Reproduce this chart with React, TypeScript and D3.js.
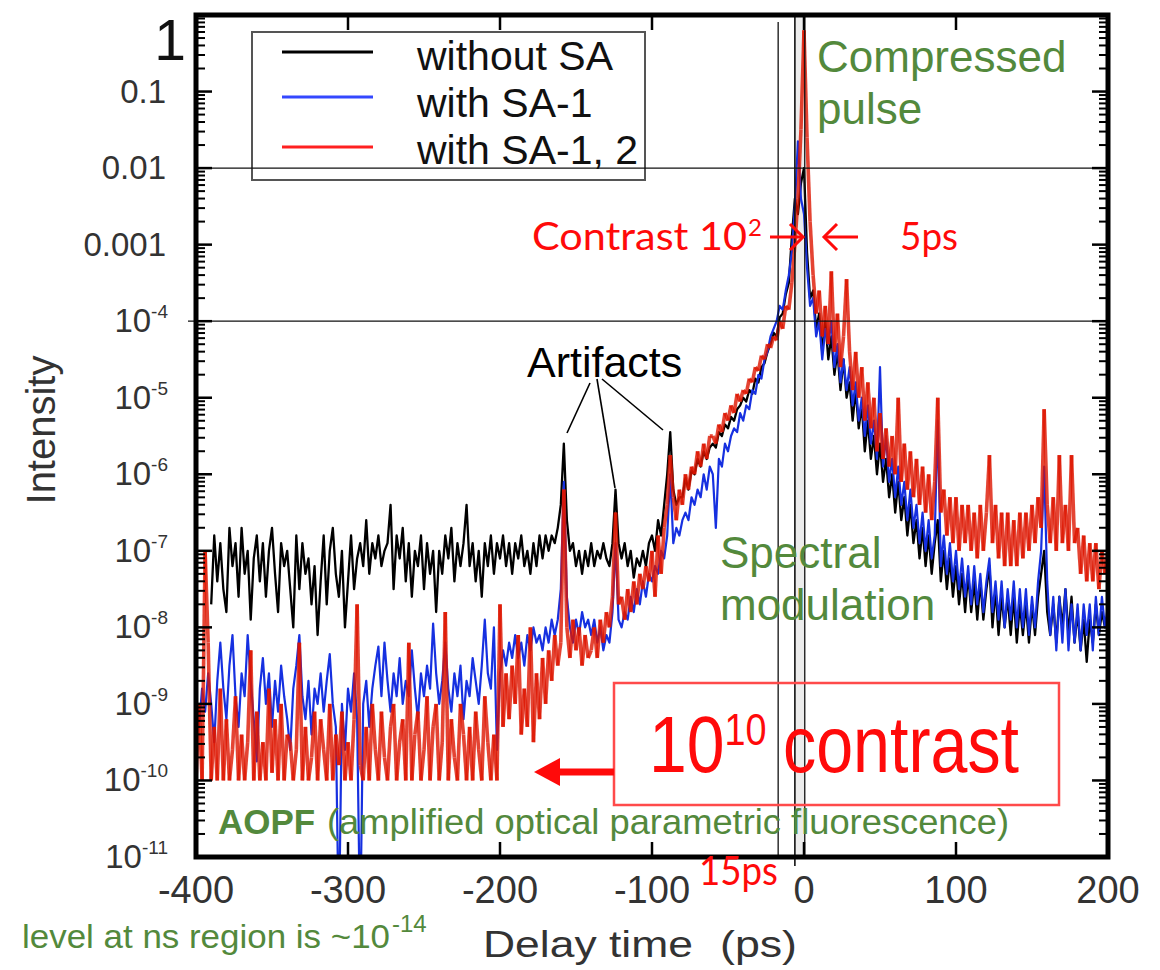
import React from "react";
import * as d3 from "d3";

// Delay-time grid: first sample and spacing (ps)
const TIME_START = -400;
const TIME_STEP = 2;

// log10(intensity), one value per 2 ps from -400 to +200 ps (null = no data)
const withoutSA: (number | null)[] = [
  null, null, null, null, null, -7.7, -6.8, -7.4, -6.9, -7.5,
  -7.8, -6.7, -7.2, -6.9, -7.6, -6.7, -7.3, -7.0, -7.9, -7.1,
  -6.8, -7.4, -6.9, -7.6, -7.0, -6.7, -7.3, -7.8, -6.9, -7.2,
  -7.0, -7.5, -8.0, -6.8, -7.5, -6.9, -7.3, -7.1, -7.7, -7.2,
  -8.1, -7.4, -6.8, -7.7, -7.0, -6.7, -7.3, -7.6, -7.0, -8.0,
  -7.4, -6.8, -7.5, -7.1, -6.9, -7.2, -6.6, -7.3, -6.9, -7.1,
  -6.8, -7.2, -7.0, -6.9, -6.4, -7.5, -6.8, -7.1, -6.7, -7.4,
  -6.9, -7.6, -7.0, -7.2, -6.8, -7.5, -6.9, -7.3, -7.0, -7.8,
  -7.0, -7.3, -6.8, -7.1, -6.7, -7.4, -6.9, -7.2, -6.9, -6.4,
  -7.2, -6.9, -7.4, -7.0, -7.6, -6.9, -7.2, -6.8, -7.3, -6.9,
  -7.1, -6.8, -7.2, -6.9, -7.3, -6.9, -7.1, -6.8, -7.2, -7.0,
  -7.3, -6.9, -7.2, -6.8, -7.1, -6.8, -7.0, -6.8, -6.9, -6.7,
  -6.4, -5.6, -6.6, -7.0, -6.9, -7.2, -7.0, -7.3, -7.0, -7.2,
  -6.9, -7.2, -7.0, -7.1, -6.9, -7.1, -7.2, -6.9, -6.2, -6.9,
  -7.1, -6.9, -7.2, -7.0, -7.35, -7.1, -7.2, -7.0, -7.2, -6.9,
  -6.8, -7.0, -6.6, -6.8, -6.4, -6.0, -5.45, -6.2, -6.4, -6.3,
  -6.3, -6.05, -6.2, -5.95, -6.0, -5.8, -5.9, -5.7, -5.8, -5.65,
  -5.6, -5.65, -5.45, -5.5, -5.35, -5.4, -5.25, -5.3, -5.15, -5.1,
  -5.0, -5.05, -4.9, -4.95, -4.75, -4.8, -4.6, -4.55, -4.4, -4.3,
  -4.15, -4.2, -3.95, -3.9, -3.65, -3.5, -2.9, -2.4, -2.6, -2.2,
  -2.0, -3.1, -3.7, -3.6, -4.1, -3.9, -4.4, -4.0, -4.5, -4.2,
  -4.7, -4.4, -4.9, -4.5, -5.0, -4.8, -5.3, -4.9, -5.4, -5.1,
  -5.7, -5.3, -5.8, -5.5, -6.0, -5.6, -6.1, -5.8, -6.3, -6.0,
  -6.5, -6.1, -6.6, -6.3, -6.8, -6.4, -6.9, -6.6, -7.1, -6.7,
  -7.2, -6.8, -7.3, -6.9, -6.6, -7.4, -7.0, -7.5, -7.1, -7.6,
  -7.2, -7.7, -7.3, -7.8, -7.3, -7.8, -7.4, -7.9, -7.4, -7.9,
  -7.5, -7.2, -8.0, -7.5, -8.1, -7.6, -8.0, -7.6, -8.1, -7.6,
  -8.2, -7.7, -8.1, -7.7, -8.2, -7.7, -8.1, -7.6, -7.3, -7.0,
  -7.8, -8.1, -7.7, -8.2, -7.6, -8.0, -7.5, -8.1, -7.6, -8.2,
  -7.8, -8.3, -7.9, -8.45, -7.9, -8.2, -7.7, -8.1, -7.8, -8.0,
  -7.8,
];

const withSA1: (number | null)[] = [
  -8.9, -9.3, -8.8, -9.1, -8.6, -9.0, -9.5, -8.7, -8.2, -8.8,
  -9.2, -8.5, -8.1, -8.9, -9.3, -8.6, -8.9, -8.1, -8.7, -9.2,
  -9.75, -8.8, -8.4, -9.0, -8.6, -9.3, -8.7, -9.1, -8.5, -8.9,
  -9.2, -9.6, -8.8, -8.5, -8.1, -8.9, -9.2, -8.7, -9.4, -8.8,
  -9.0, -8.6, -9.1, -8.7, -8.35, -9.0, -9.3, -12.0, -9.0, -9.6,
  -8.8, -9.1, -8.6, -9.2, -12.0, -9.0, -8.7, -9.3, -8.8, -8.5,
  -8.25, -8.9, -8.2, -8.7, -9.1, -8.6, -8.9, -8.4, -9.0, -8.7,
  -8.9, -8.3, -8.8, -9.2, -8.6, -8.9, -8.5, -8.8, -7.95, -8.6,
  -9.0, -8.7, -8.2, -8.8, -9.1, -8.6, -8.9, -8.5, -9.2, -8.7,
  -8.9, -8.4, -8.7, -9.0, -8.5, -7.9, -8.6, -8.8, -8.0, -9.6,
  -8.6, -8.3, -8.5, -8.2, -8.4, -8.1, -8.4, -8.2, -8.5, -8.1,
  -8.3, -8.0, -8.2, -8.1, -8.3, -8.0, -8.2, -7.9, -8.1, -7.9,
  -7.5, -6.1, -7.6, -8.0, -8.2, -7.9, -8.1, -7.8, -8.0, -7.9,
  -8.1, -7.9, -8.2, -8.0, -8.3, -8.1, -8.2, -7.8, -6.9, -7.9,
  -8.0, -7.8, -7.9, -7.6, -7.8, -7.5, -7.7, -7.4, -7.6, -7.3,
  -7.4, -7.2, -7.3, -7.0, -7.1, -6.8, -6.0, -6.9, -6.7, -6.8,
  -6.6, -6.5, -6.6, -6.3, -6.4, -6.2, -6.3, -6.0, -6.2, -5.9,
  -6.0, -6.7, -5.8, -5.9, -5.6, -5.7, -5.5, -5.4, -5.45, -5.2,
  -5.3, -5.1, -5.15, -4.9, -4.95, -4.7, -4.75, -4.5, -4.4, -4.2,
  -4.1, -4.0, -3.8, -3.85, -3.6, -3.4, -3.1, -2.5, -1.65, -2.4,
  -2.6, -3.3, -3.8, -3.7, -4.2, -4.0, -4.5, -4.1, -4.3, -4.0,
  -4.6, -4.3, -4.8, -4.5, -4.9, -4.6, -5.1, -4.8, -5.3, -5.0,
  -5.5, -5.1, -5.6, -5.3, -5.8, -4.6, -5.9, -5.5, -6.1, -5.8,
  -6.3, -5.9, -6.4, -6.1, -6.6, -6.2, -6.7, -6.4, -6.9, -6.5,
  -7.0, -6.6, -7.1, -6.8, -5.3, -7.2, -6.8, -7.3, -6.9, -7.4,
  -7.0, -7.5, -7.1, -7.6, -7.2, -7.7, -7.2, -7.7, -7.3, -7.8,
  -7.4, -7.1, -7.8, -7.4, -7.9, -7.4, -8.0, -7.5, -7.9, -7.4,
  -8.0, -7.5, -8.0, -7.5, -8.1, -7.6, -8.0, -7.4, -7.0, -5.9,
  -7.4, -8.1, -7.6, -8.3, -7.6, -8.2, -7.5, -8.3, -7.7, -8.2,
  -7.7, -8.3, -7.7, -8.1, -7.7, -8.3, -7.6, -8.1, -7.6, -8.0,
  -7.7,
];

const withSA12: (number | null)[] = [
  -10.0, -9.0, -10.0, -7.0, -8.2, -10.0, -9.3, -10.0, -8.8, -10.0,
  -9.2, -10.0, -9.6, -8.9, -10.0, -9.4, -10.0, -9.5, -8.3, -10.0,
  -9.1, -10.0, -9.5, -10.0, -8.8, -9.9, -9.2, -10.0, -9.0, -10.0,
  -9.4, -9.5, -10.0, -9.6, -8.2, -10.0, -9.3, -10.0, -9.7, -9.1,
  -10.0, -9.2, -9.6, -10.0, -9.0, -10.0, -9.4, -9.8, -9.1, -10.0,
  -9.5, -10.0, -9.2, -7.7, -9.8, -10.0, -9.3, -10.0, -9.0, -9.6,
  -10.0, -9.1, -9.7, -10.0, -9.3, -9.0, -10.0, -9.5, -9.2, -10.0,
  -8.2, -10.0, -9.4, -9.1, -10.0, -9.6, -8.9, -10.0, -9.3, -9.0,
  -10.0, -9.5, -7.8, -10.0, -9.2, -9.7, -10.0, -9.0, -9.4, -10.0,
  -9.3, -10.0, -9.1, -9.6, -10.0, -8.9, -9.5, -10.0, -9.4, -10.0,
  -7.7, -9.3, -8.6, -9.2, -8.5, -9.0, -8.1, -9.4, -8.8, -9.3,
  -8.0, -9.5, -8.6, -9.2, -8.4, -9.0, -8.3, -8.7, -8.1, -8.5,
  -8.2, -6.2, -8.0, -8.4, -7.9, -8.3, -8.0, -8.5, -8.1, -8.4,
  -8.3, -8.0, -8.4, -7.9, -8.2, -7.8, -8.0, -7.6, -6.5, -7.7,
  -7.6, -7.9, -7.5, -7.8, -7.4, -7.7, -7.3, -7.5, -7.2, -7.4,
  -7.0, -7.6, -6.8, -7.3, -6.7, -6.4, -5.75, -6.3, -6.6, -6.2,
  -6.4, -6.0, -6.2, -5.9, -6.0, -5.7, -5.9, -5.6, -5.8, -5.5,
  -5.5, -5.6, -5.35, -5.45, -5.2, -5.3, -5.1, -5.2, -4.95, -5.05,
  -4.9, -4.95, -4.75, -4.8, -4.6, -4.65, -4.45, -4.5, -4.3, -4.35,
  -4.2, -4.25, -4.0, -4.1, -3.8, -3.85, -3.5, -3.0, -2.4, -1.5,
  -0.2, -1.6, -2.7, -3.4, -3.9, -3.6, -4.2, -3.8, -4.3, -3.35,
  -4.4, -3.9, -4.6, -4.2, -3.45, -4.4, -4.9, -4.4, -5.0, -4.6,
  -5.3, -4.8, -5.4, -5.0, -5.7, -5.2, -5.8, -5.4, -5.9, -5.5,
  -6.0, -5.0, -6.1, -5.6, -6.2, -5.7, -6.3, -5.8, -6.4, -5.9,
  -6.5, -6.0, -6.6, -6.1, -5.0, -6.5, -6.2, -6.8, -6.3, -6.9,
  -6.3, -7.0, -6.4, -6.9, -6.4, -7.0, -6.5, -7.1, -6.4, -7.0,
  -6.5, -5.75, -6.9, -6.4, -7.1, -6.5, -7.2, -6.5, -7.2, -6.6,
  -7.2, -6.5, -7.1, -6.5, -7.0, -6.4, -6.9, -6.3, -6.7, -5.15,
  -6.4, -6.9, -6.3, -7.0, -5.75, -6.9, -6.4, -7.0, -5.75, -6.9,
  -6.7, -7.3, -6.8, -7.4, -6.9, -7.4, -6.9, -7.5, -7.0, -7.3,
  -7.0,
];

const seriesNames = ["without SA", "with SA-1", "with SA-1, 2"];
const xTickValues = [-400, -300, -200, -100, 0, 100, 200];
const yDecadeExponents = [0, -1, -2, -3, -4, -5, -6, -7, -8, -9, -10, -11];
const yPlainLabels: Record<number, string> = { [-1]: "0.1", [-2]: "0.01", [-3]: "0.001" };
const guideIntensities = [1e-2, 1e-4];
const markerTimes = [-17, -6, 0.5];

const FONT = "'Liberation Sans', Arial, Helvetica, sans-serif";
const FONT2 = "Lato, 'Open Sans', sans-serif";
const GREEN = "#53893c";
const RED = "#ff0a0a";

export default function App() {
  const L = 196, R = 1108, T = 15, B = 857;
  const x = d3.scaleLinear().domain([-400, 200]).range([L, R]);
  const y = d3.scaleLog().domain([1e-11, 1]).range([B, T]);

  const toPts = (arr: (number | null)[]) =>
    arr.map((v, i) => ({ t: TIME_START + i * TIME_STEP, v: v == null ? null : Math.pow(10, v) }));

  const line = d3
    .line<{ t: number; v: number | null }>()
    .defined((d) => d.v != null)
    .x((d) => x(d.t))
    .y((d) => y(d.v as number));

  const blackPts = toPts(withoutSA);
  const bluePts = toPts(withSA1);
  const redPts = toPts(withSA12);

  const redSegs: { x1: number; y1: number; x2: number; y2: number }[] = [];
  for (let i = 0; i < redPts.length - 1; i++) {
    const a = redPts[i], b = redPts[i + 1];
    if (a.v == null || b.v == null) continue;
    redSegs.push({ x1: x(a.t), y1: y(a.v), x2: x(b.t), y2: y(b.v) });
  }

  const minorTicks: number[] = [];
  for (let e = -11; e < 0; e++) for (let k = 2; k <= 9; k++) minorTicks.push(k * Math.pow(10, e));

  const arrowY = 772;

  return (
    <svg width={1160} height={970} style={{ position: "absolute", left: 0, top: 0, background: "#fff" }} fontFamily={FONT}>
      <defs>
        <clipPath id="plot">
          <rect x={L} y={T} width={R - L} height={B - T} />
        </clipPath>
      </defs>
      <rect x={0} y={0} width={1160} height={970} fill="#fff" />

      <rect x={x(markerTimes[1])} y={T} width={x(markerTimes[2]) - x(markerTimes[1])} height={B - T} fill="#ececec" />

      <g clipPath="url(#plot)">
        <path d={line(blackPts) || ""} fill="none" stroke="#000" strokeWidth={2.3} strokeLinejoin="round" />
        <path d={line(bluePts) || ""} fill="none" stroke="#1630e0" strokeWidth={2.2} strokeLinejoin="round" />
        {redSegs.map((s, i) => (
          <line key={i} x1={s.x1} y1={s.y1} x2={s.x2} y2={s.y2} stroke="#dd1500" strokeOpacity={0.8} strokeWidth={3.6} />
        ))}
      </g>

      {/* legend */}
      <rect x={252} y={32} width={393} height={148} fill="#fff" stroke="#555" strokeWidth={2} />
      {seriesNames.map((n, i) => (
        <g key={n}>
          <line x1={282} x2={373} y1={[52, 97, 147][i]} y2={[52, 97, 147][i]} stroke={["#000", "#3448ff", "#ff2020"][i]} strokeWidth={3} />
          <text x={417} y={[70, 117, 164][i]} fontSize={41} fill="#111">{n}</text>
        </g>
      ))}

      {/* guide lines */}
      {guideIntensities.map((g, i) => (
        <line key={g} x1={i === 0 ? L : 188} x2={R} y1={y(g)} y2={y(g)} stroke="#111" strokeWidth={1.3} />
      ))}
      <line x1={x(markerTimes[0])} x2={x(markerTimes[0])} y1={22} y2={B} stroke="#111" strokeWidth={1.3} />
      <line x1={x(markerTimes[1])} x2={x(markerTimes[1])} y1={T} y2={866} stroke="#111" strokeWidth={1.6} />
      <line x1={x(markerTimes[2])} x2={x(markerTimes[2])} y1={T} y2={B} stroke="#111" strokeWidth={1.3} />

      {/* frame */}
      <rect x={L} y={T} width={R - L} height={B - T} fill="none" stroke="#000" strokeWidth={5} />
      {yDecadeExponents.map((e) => (
        <g key={e}>
          <line x1={L} x2={L + 16} y1={y(Math.pow(10, e))} y2={y(Math.pow(10, e))} stroke="#000" strokeWidth={2.5} />
          <line x1={R} x2={R - 16} y1={y(Math.pow(10, e))} y2={y(Math.pow(10, e))} stroke="#000" strokeWidth={2.5} />
        </g>
      ))}
      {minorTicks.map((m, i) => (
        <g key={i}>
          <line x1={L} x2={L + 9} y1={y(m)} y2={y(m)} stroke="#000" strokeWidth={2} />
          <line x1={R} x2={R - 9} y1={y(m)} y2={y(m)} stroke="#000" strokeWidth={2} />
        </g>
      ))}
      {xTickValues.slice(1, -1).map((t) => (
        <g key={t}>
          <line x1={x(t)} x2={x(t)} y1={B} y2={B - 15} stroke="#000" strokeWidth={2.5} />
          <line x1={x(t)} x2={x(t)} y1={T} y2={T + 15} stroke="#000" strokeWidth={2.5} />
        </g>
      ))}

      {/* y tick labels */}
      {yDecadeExponents.map((e) => {
        const yy = y(Math.pow(10, e));
        if (e === 0)
          return (
            <text key={e} x={186} y={60} fontSize={57} textAnchor="end" fill="#111">1</text>
          );
        if (yPlainLabels[e])
          return (
            <text key={e} x={166} y={yy + 11} fontSize={33} textAnchor="end" fill="#333">{yPlainLabels[e]}</text>
          );
        return (
          <text key={e} x={168} y={yy + 11} fontSize={33} textAnchor="end" fill="#333">
            10<tspan dy={-14} fontSize={19}>{String(e)}</tspan>
          </text>
        );
      })}

      {xTickValues.map((t) => (
        <text key={t} x={x(t)} y={903} fontSize={38} textAnchor="middle" fill="#333">{t}</text>
      ))}

      {/* axis titles */}
      <text x={483} y={957} fontSize={36} fill="#333" textLength={210} lengthAdjust="spacingAndGlyphs">Delay time</text>
      <text x={720} y={957} fontSize={36} fill="#333" textLength={77} lengthAdjust="spacingAndGlyphs">(ps)</text>
      <text transform="translate(55,430) rotate(-90)" fontSize={40} textAnchor="middle" fill="#333">Intensity</text>

      {/* annotations */}
      <text x={817} y={72} fontSize={44} fill={GREEN}>Compressed</text>
      <text x={817} y={124} fontSize={44} fill={GREEN}>pulse</text>
      <text x={720} y={568} fontSize={44} fill={GREEN}>Spectral</text>
      <text x={720} y={620} fontSize={44} fill={GREEN}>modulation</text>

      <text x={527} y={377} fontSize={43} fill="#000">Artifacts</text>
      <line x1={590} y1={383} x2={567} y2={433} stroke="#000" strokeWidth={1.6} />
      <line x1={597} y1={379} x2={615} y2={488} stroke="#000" strokeWidth={1.6} />
      <line x1={602} y1={379} x2={663} y2={430} stroke="#000" strokeWidth={1.6} />

      <text x={532} y={250} fontSize={38} fill={RED} fontFamily={FONT2} textLength={215} lengthAdjust="spacingAndGlyphs">Contrast 10</text>
      <text x={748} y={236} fontSize={24} fill={RED} fontFamily={FONT2}>2</text>
      <g stroke={RED} strokeWidth={3} fill="none">
        <line x1={770} y1={237} x2={802} y2={237} />
        <polyline points="790,224 803,237 790,250" />
        <line x1={858} y1={237} x2={824} y2={237} />
        <polyline points="837,224 824,237 837,250" />
      </g>
      <text x={900} y={250} fontSize={39} fill={RED} fontFamily={FONT2} textLength={58} lengthAdjust="spacingAndGlyphs">5ps</text>
      <text x={699} y={885} fontSize={40} fill={RED} fontFamily={FONT2} textLength={79} lengthAdjust="spacingAndGlyphs">15ps</text>

      <rect x={614} y={683} width={445} height={122} fill="none" stroke="#ff4a4a" strokeWidth={2.5} />
      <text transform={`translate(649,${arrowY}) scale(0.86,1)`} fontSize={79} fill={RED}>
        10<tspan dy={-27} fontSize={44}>10</tspan>
      </text>
      <text transform={`translate(783,${arrowY}) scale(0.84,1)`} fontSize={79} fill={RED}>contrast</text>
      <line x1={614} y1={arrowY} x2={555} y2={arrowY} stroke={RED} strokeWidth={7} />
      <polygon points={`534,${arrowY} 560,${arrowY - 14} 560,${arrowY + 14}`} fill={RED} />

      <text x={218} y={834} fontSize={35} fill={GREEN} fontWeight="bold">AOPF</text>
      <text x={327} y={834} fontSize={35} fill={GREEN} textLength={682} lengthAdjust="spacingAndGlyphs">(amplified optical parametric fluorescence)</text>

      <text x={22} y={948} fontSize={34} fill={GREEN} textLength={368} lengthAdjust="spacingAndGlyphs">level at ns region is ~10</text>
      <text x={392} y={932} fontSize={24} fill={GREEN}>-14</text>
    </svg>
  );
}
